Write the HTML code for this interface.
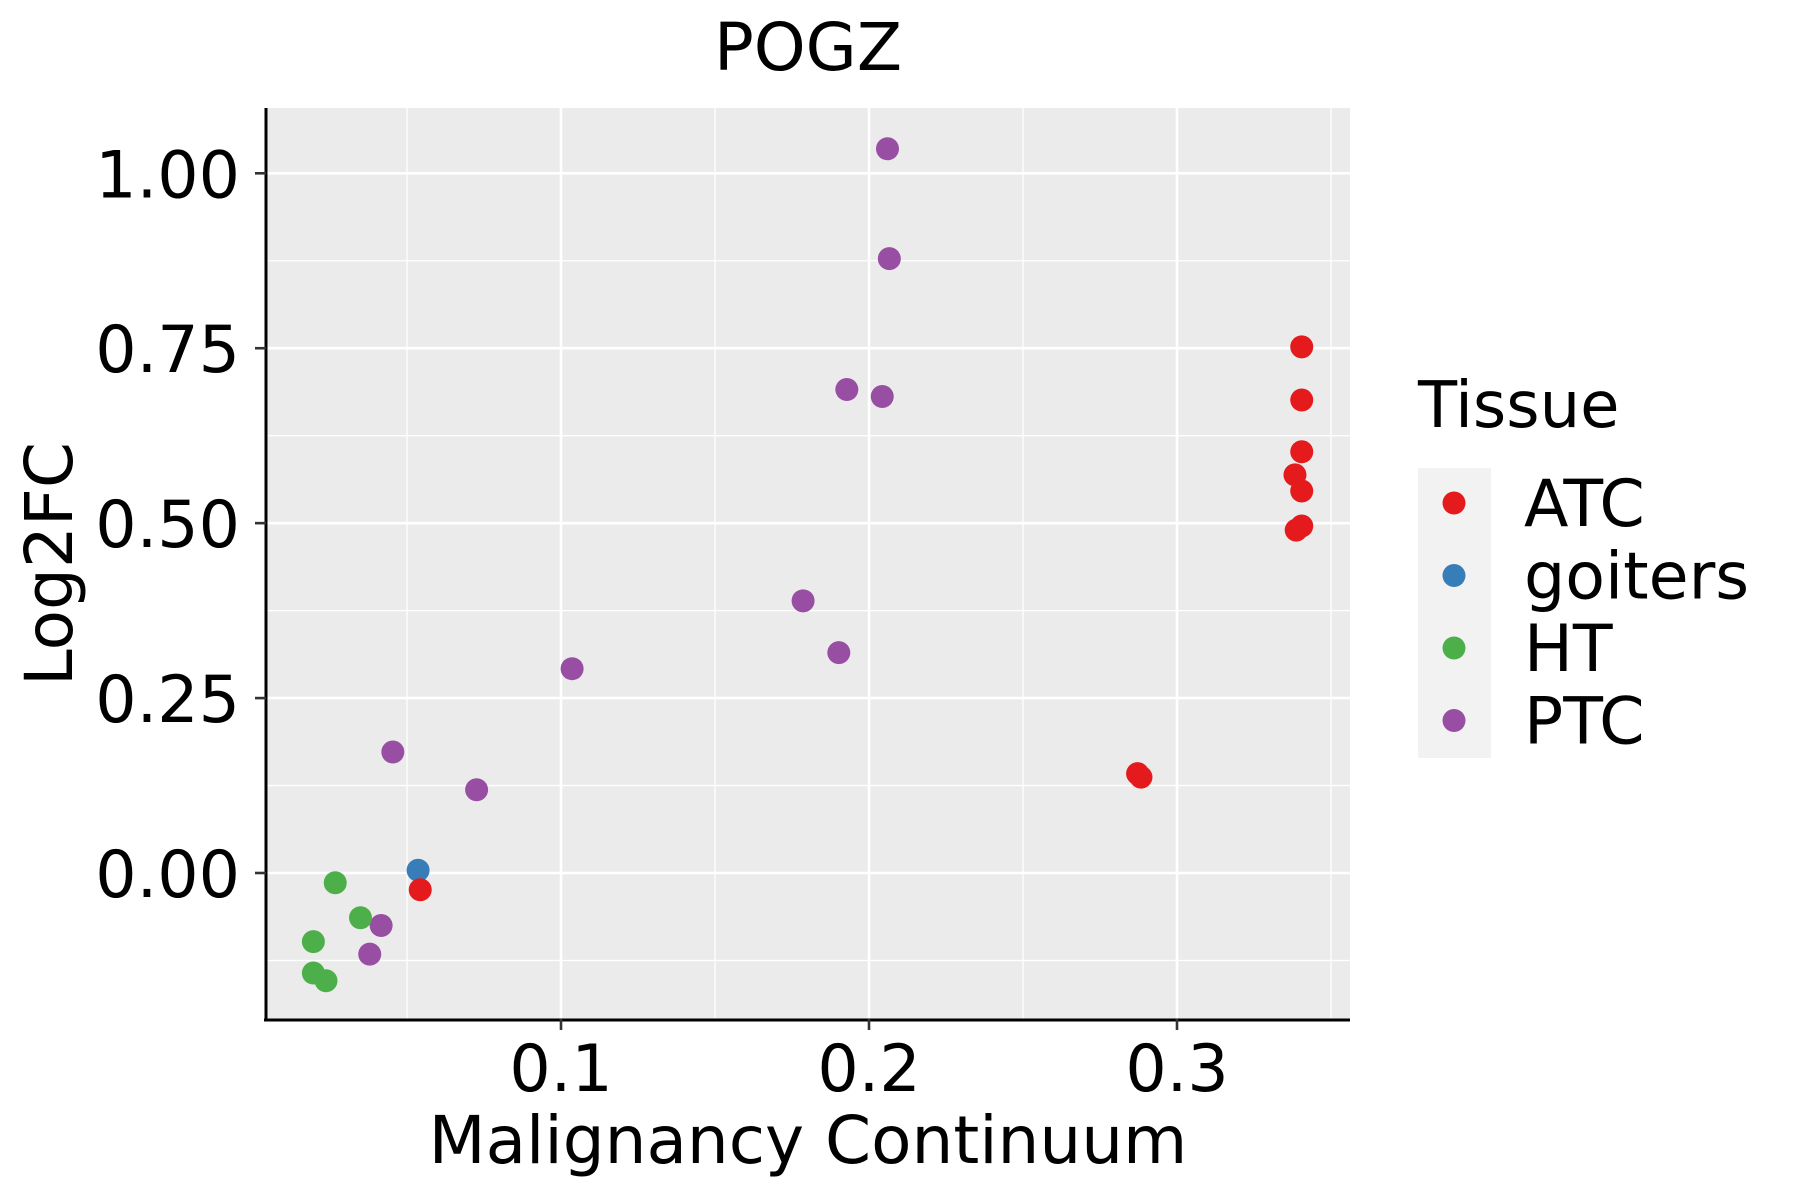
<!DOCTYPE html>
<html><head><meta charset="utf-8"><style>
body{margin:0;background:#fff;}
svg{display:block;font-family:"DejaVu Sans","Liberation Sans",sans-serif;}
</style></head><body>
<svg id="chart" width="1800" height="1200" viewBox="0 0 1800 1200">
<text x="808" y="70" font-size="66" text-anchor="middle">POGZ</text>
<rect x="266" y="108" width="1084" height="911" fill="#ebebeb"/>
<g id="grid"></g>
<g id="points"></g>
<line x1="266" y1="108" x2="266" y2="1021" stroke="#000" stroke-width="3"/>
<line x1="264" y1="1020" x2="1350" y2="1020" stroke="#000" stroke-width="3"/>
<g id="axes"></g>
<text x="808" y="1163" font-size="66" text-anchor="middle">Malignancy Continuum</text>
<text transform="translate(72,564) rotate(-90)" font-size="66" text-anchor="middle">Log2FC</text>
<g>
<text x="1418" y="427" font-size="64">Tissue</text>
<rect x="1418" y="468" width="73" height="290" fill="#f2f2f2"/>
<g id="legend"></g>
</g>
</svg>
<script>
const xTicks=[0.1,0.2,0.3];
const xTickLabels=["0.1","0.2","0.3"];
const yTicks=[0,0.25,0.5,0.75,1.0];
const yTickLabels=["0.00","0.25","0.50","0.75","1.00"];
const tissues=["ATC","goiters","HT","PTC"];
const colors=["#e41a1c","#377eb8","#4daf4a","#984ea3"];
const atcX=[0.3405,0.3405,0.3405,0.3383,0.3405,0.3405,0.3387,0.2872,0.2883,0.0543];
const atcY=[0.752,0.676,0.602,0.569,0.546,0.496,0.490,0.142,0.137,-0.024];
const goitersX=[0.0536];
const goitersY=[0.004];
const htX=[0.0267,0.0349,0.0196,0.0196,0.0237];
const htY=[-0.014,-0.064,-0.098,-0.143,-0.154];
const ptcX=[0.2060,0.2066,0.1928,0.2043,0.1786,0.1902,0.1036,0.0454,0.0726,0.0416,0.0379];
const ptcY=[1.035,0.878,0.691,0.681,0.389,0.315,0.292,0.173,0.119,-0.075,-0.116];
const seriesX=[atcX,goitersX,htX,ptcX];
const seriesY=[atcY,goitersY,htY,ptcY];
const NS="http://www.w3.org/2000/svg";
const X0=253,XS=3080,Y0=873,YS=699.7;
const PL=266,PR=1350,PT=108,PB=1019;
function sx(v){return X0+v*XS;}
function sy(v){return Y0-v*YS;}
function mk(tag,attrs,parent){const e=document.createElementNS(NS,tag);for(const k in attrs)e.setAttribute(k,attrs[k]);parent.appendChild(e);return e;}
const grid=document.getElementById('grid');
const minorX=[0.05,0.15,0.25,0.35];
const minorY=[-0.125,0.125,0.375,0.625,0.875];
minorX.forEach(v=>{const l=mk('line',{x1:sx(v),x2:sx(v),y1:PT,y2:PB,stroke:'#fff','stroke-width':1.3},grid);

});
minorY.forEach(v=>{const l=mk('line',{x1:PL,x2:PR,y1:sy(v),y2:sy(v),stroke:'#fff','stroke-width':1.3},grid);

});
xTicks.forEach(v=>{const l=mk('line',{x1:sx(v),x2:sx(v),y1:PT,y2:PB,stroke:'#fff','stroke-width':2.6},grid);

});
yTicks.forEach(v=>{const l=mk('line',{x1:PL,x2:PR,y1:sy(v),y2:sy(v),stroke:'#fff','stroke-width':2.6},grid);

});
const axes=document.getElementById('axes');
xTicks.forEach((v,i)=>{const t=mk('line',{x1:sx(v),x2:sx(v),y1:PB,y2:PB+11,stroke:'#333','stroke-width':2.6},axes);


const tx=mk('text',{x:sx(v),y:1091,'font-size':65,'text-anchor':'middle'},axes);tx.textContent=xTickLabels[i];

});
yTicks.forEach((v,i)=>{const t=mk('line',{x1:PL-11,x2:PL,y1:sy(v),y2:sy(v),stroke:'#333','stroke-width':2.6},axes);


const tx=mk('text',{x:240,y:sy(v)+24,'font-size':65,'text-anchor':'end'},axes);tx.textContent=yTickLabels[i];

});
const pts=document.getElementById('points');
[3,2,1,0].forEach(s=>{seriesX[s].forEach((xv,j)=>{const c=mk('circle',{cx:sx(xv),cy:sy(seriesY[s][j]),r:11.5,fill:colors[s]},pts);

});});
const leg=document.getElementById('legend');
tissues.forEach((n,i)=>{const y=503+i*72.5;
const c=mk('circle',{cx:1454,cy:y,r:11.5,fill:colors[i]},leg);


const t=mk('text',{x:1524,y:y+23,'font-size':65},leg);t.textContent=n;

});
</script>
</body></html>
